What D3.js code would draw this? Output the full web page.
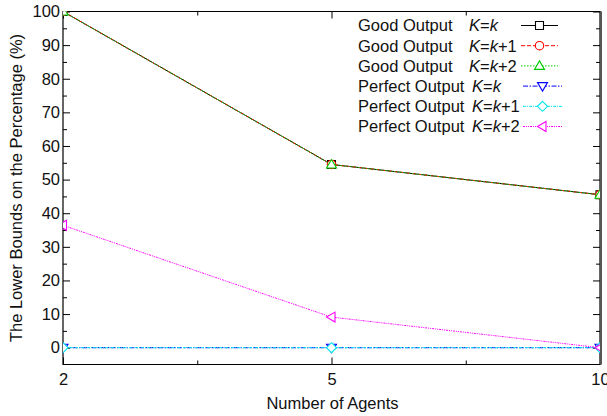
<!DOCTYPE html>
<html>
<head>
<meta charset="utf-8">
<script src="https://cdn.jsdelivr.net/npm/d3@7"></script>
<style>
  html, body { margin: 0; padding: 0; background: #fff; }
  svg { display: block; }
  text { font-family: "Liberation Sans", Arial, Helvetica, sans-serif; fill: #111; }
</style>
</head>
<body>
<svg id="chart" width="607" height="416"></svg>
<script>
// Number of agents (x categories) and lower-bound percentages per series
const agents = [2, 5, 10];
const goodK   = [100, 54.5, 45.5];
const goodK1  = [100, 54.5, 45.5];
const goodK2  = [100, 54.5, 45.5];
const perfK   = [0, 0, 0];
const perfK1  = [0, 0, 0];
const perfK2  = [36.4, 9.1, 0];
const yMajorTicks = [0, 10, 20, 30, 40, 50, 60, 70, 80, 90, 100];
const yMinorTicks = [5, 15, 25, 35, 45, 55, 65, 75, 85, 95];

const series = [
  { prefix: "Good Output", suffix: "+0", values: goodK,  color: "#000000", dash: null,            shape: "square",  kx: 469 },
  { prefix: "Good Output", suffix: "+1", values: goodK1, color: "#ff0000", dash: "4,2",           shape: "circle",  kx: 469 },
  { prefix: "Good Output", suffix: "+2", values: goodK2, color: "#00cc00", dash: "1.5,1.5",       shape: "triUp",   kx: 469 },
  { prefix: "Perfect Output", suffix: "+0", values: perfK,  color: "#0000ff", dash: "5,1.5,1.5,1.5", shape: "triDown", kx: 472 },
  { prefix: "Perfect Output", suffix: "+1", values: perfK1, color: "#00e5ee", dash: "3,1,1,1",     shape: "diamond", kx: 472 },
  { prefix: "Perfect Output", suffix: "+2", values: perfK2, color: "#ff00ff", dash: "2,1,1,1,1,1", shape: "triLeft", kx: 472 }
];

const svg = d3.select("#chart");
const mLeft = 63, mRight = 600, mTop = 11.5, mBottom = 364.5;

const x = d3.scaleLinear().domain([0, agents.length - 1]).range([mLeft, mRight]);
const y = d3.scaleLinear().domain([-5, 100]).range([mBottom, mTop]);

const xMajor = d3.range(agents.length);
const xMinor = d3.range(0.5, agents.length - 1, 1);

// marker outlines
function shapePath(shape, cx, cy) {
  const s = 4.5;
  switch (shape) {
    case "square":  return `M${cx - 4},${cy - 4}h8v8h-8Z`;
    case "circle":  return `M${cx + 4.2},${cy}A4.2,4.2 0 1,1 ${cx - 4.2},${cy}A4.2,4.2 0 1,1 ${cx + 4.2},${cy}Z`;
    case "triUp":   return `M${cx},${cy - s - 0.5}L${cx + s + 0.5},${cy + s - 1}L${cx - s - 0.5},${cy + s - 1}Z`;
    case "triDown": return `M${cx},${cy + s + 0.5}L${cx + s + 0.5},${cy - s + 1}L${cx - s - 0.5},${cy - s + 1}Z`;
    case "diamond": return `M${cx},${cy - s - 0.5}L${cx + s + 0.5},${cy}L${cx},${cy + s + 0.5}L${cx - s - 0.5},${cy}Z`;
    case "triLeft": return `M${cx - s - 0.5},${cy}L${cx + s - 1},${cy - s - 0.5}L${cx + s - 1},${cy + s + 0.5}Z`;
  }
}

// axes: inward ticks on all four sides
function styleAxis(g) {
  g.select(".domain").remove();
  g.selectAll("line").attr("stroke", "#000").attr("stroke-width", 1);
  g.selectAll("text").attr("font-size", 16.5).attr("fill", "#111")
    .attr("font-family", '"Liberation Sans", Arial, Helvetica, sans-serif');
}

svg.append("g").attr("transform", `translate(${mLeft},0)`)
  .call(d3.axisLeft(y).tickValues(yMajorTicks).tickSize(-7).tickPadding(3))
  .call(styleAxis);
svg.append("g").attr("transform", `translate(${mLeft},0)`)
  .call(d3.axisLeft(y).tickValues(yMinorTicks).tickSize(-4).tickFormat(""))
  .call(styleAxis);
svg.append("g").attr("transform", `translate(${mRight},0)`)
  .call(d3.axisRight(y).tickValues(yMajorTicks).tickSize(-7).tickFormat(""))
  .call(styleAxis);
svg.append("g").attr("transform", `translate(${mRight},0)`)
  .call(d3.axisRight(y).tickValues(yMinorTicks).tickSize(-4).tickFormat(""))
  .call(styleAxis);

svg.append("g").attr("transform", `translate(0,${mBottom})`)
  .call(d3.axisBottom(x).tickValues(xMajor).tickSize(-7).tickPadding(8.5).tickFormat(i => agents[i]))
  .call(styleAxis);
svg.append("g").attr("transform", `translate(0,${mBottom})`)
  .call(d3.axisBottom(x).tickValues(xMinor).tickSize(-4).tickFormat(""))
  .call(styleAxis);
svg.append("g").attr("transform", `translate(0,${mTop})`)
  .call(d3.axisTop(x).tickValues(xMajor).tickSize(-7).tickFormat(""))
  .call(styleAxis);
svg.append("g").attr("transform", `translate(0,${mTop})`)
  .call(d3.axisTop(x).tickValues(xMinor).tickSize(-4).tickFormat(""))
  .call(styleAxis);

// plot frame
svg.append("path")
  .attr("d", `M${mLeft},${mTop}H${mRight}V${mBottom}H${mLeft}Z`)
  .attr("fill", "none").attr("stroke", "#000").attr("stroke-width", 1.2);
svg.append("line")
  .attr("x1", mRight + 1).attr("x2", mRight + 1).attr("y1", mTop).attr("y2", mBottom)
  .attr("stroke", "#555").attr("stroke-width", 2);

// data, clipped to the plot area
svg.append("clipPath").attr("id", "plotClip")
  .append("rect").attr("x", mLeft).attr("y", mTop).attr("width", mRight - mLeft).attr("height", mBottom - mTop);
const plot = svg.append("g").attr("clip-path", "url(#plotClip)");

const line = d3.line().x((d, i) => x(i)).y(d => y(d));

series.forEach(s => {
  plot.append("path")
    .datum(s.values)
    .attr("d", line)
    .attr("fill", "none")
    .attr("stroke", s.color)
    .attr("stroke-width", 1)
    .attr("stroke-dasharray", s.dash);
  s.values.forEach((v, i) => {
    plot.append("path")
      .attr("d", shapePath(s.shape, x(i), y(v)))
      .attr("fill", "#fff")
      .attr("stroke", s.color)
      .attr("stroke-width", 1.1);
  });
});

// legend
const legend = svg.append("g");
series.forEach((s, i) => {
  const cy = 25.5 + i * 20.2;
  const t = legend.append("text")
    .attr("x", 358).attr("y", cy).attr("dy", "0.36em")
    .attr("font-size", 16.5);
  t.append("tspan").text(s.prefix);
  t.append("tspan").attr("x", s.kx).attr("font-style", "italic").text("K");
  t.append("tspan").text("=");
  t.append("tspan").attr("font-style", "italic").text("k");
  if (s.suffix !== "+0") t.append("tspan").text(s.suffix);

  const x0 = s.prefix === "Good Output" ? 521 : 523;
  const x1 = s.prefix === "Good Output" ? 558 : 562;
  legend.append("line")
    .attr("x1", x0).attr("x2", x1).attr("y1", cy).attr("y2", cy)
    .attr("stroke", s.color).attr("stroke-width", 1)
    .attr("stroke-dasharray", s.dash);
  legend.append("path")
    .attr("d", shapePath(s.shape, (x0 + x1) / 2, cy))
    .attr("fill", "#fff").attr("stroke", s.color).attr("stroke-width", 1.1);
});

// axis titles
svg.append("text")
  .attr("x", (mLeft + mRight) / 2 + 1).attr("y", 409)
  .attr("text-anchor", "middle").attr("font-size", 16.5)
  .text("Number of Agents");
svg.append("text")
  .attr("transform", `translate(22,${(mTop + mBottom) / 2}) rotate(-90)`)
  .attr("text-anchor", "middle").attr("font-size", 16.5)
  .text("The Lower Bounds on the Percentage (%)");
</script>
</body>
</html>
